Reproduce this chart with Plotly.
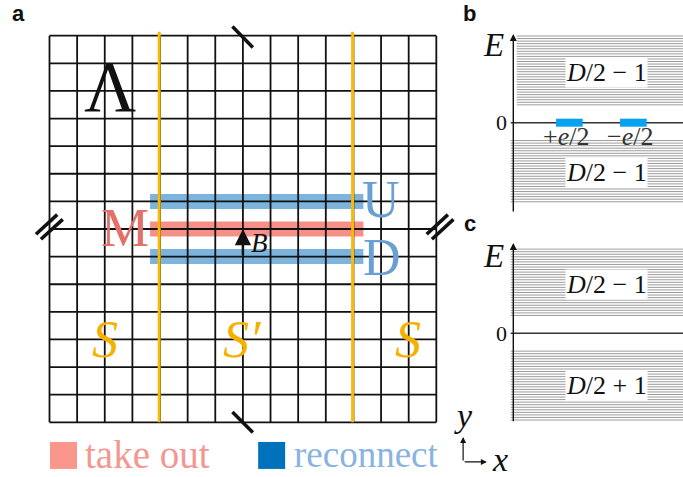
import plotly.graph_objects as go

# ---------------- data ----------------
GRID_N = 14                      # 14 x 14 lattice cells
yellow_cols = [4, 11]            # cut lines between S and S'
take_out_rows = [7]              # row removed (M)
reconnect_rows = [8, 6]          # rows reconnected (U, D)
band_x = [3.64, 11.36]           # horizontal extent of bands
b_col, b_rows = 7, [6, 7]        # B arrow

# energy levels (in units of level spacing)
b_upper = [7, 8, 9, 10, 11, 12, 13, 14, 15, 16, 17, 18, 19, 20, 21, 22, 23, 24, 25, 26, 27, 28, 29, 30, 31, 32, 33, 34]
b_lower = [-7, -8, -9, -10, -11, -12, -13, -14, -15, -16, -17, -18, -19, -20, -21, -22, -23, -24, -25, -26, -27, -28, -29, -30, -31]
c_upper = [7, 8, 9, 10, 11, 12, 13, 14, 15, 16, 17, 18, 19, 20, 21, 22, 23, 24, 25, 26, 27, 28, 29, 30, 31, 32, 33]
c_lower = [-7, -8, -9, -10, -11, -12, -13, -14, -15, -16, -17, -18, -19, -20, -21, -22, -23, -24, -25, -26, -27, -28, -29, -30, -31, -32, -33, -34]
zero_modes_x = [[0.252, 0.409], [0.629, 0.786]]
zero_mode_labels = ["+<i>e</i>/2", "−<i>e</i>/2"]
b_labels = ["<i>D</i>/2 − 1", "<i>D</i>/2 − 1"]
c_labels = ["<i>D</i>/2 − 1", "<i>D</i>/2 + 1"]

SERIF = "Liberation Serif"
BLACK = "#111111"
YELLOW = "#f9b908"
BLUE_BAND = "#7db4dc"
RED_BAND = "#f68f86"

fig = go.Figure()

def seglist(segs):
    xs, ys = [], []
    for (x0, y0, x1, y1) in segs:
        xs += [x0, x1, None]
        ys += [y0, y1, None]
    return xs, ys

# bands
for rows, col in ((reconnect_rows, BLUE_BAND), (take_out_rows, RED_BAND)):
    xs, ys = seglist([(band_x[0], r, band_x[1], r) for r in rows])
    fig.add_trace(go.Scatter(x=xs, y=ys, mode="lines", line=dict(color=col, width=15),
                             hoverinfo="skip", showlegend=False))

# grid
segs = []
for i in range(GRID_N + 1):
    segs.append((i, 0, i, GRID_N))
    segs.append((0, i, GRID_N, i))
xs, ys = seglist(segs)
fig.add_trace(go.Scatter(x=xs, y=ys, mode="lines", line=dict(color=BLACK, width=1.8),
                         hoverinfo="skip", showlegend=False))

# yellow cut lines
xs, ys = seglist([(c - 0.03, 0, c - 0.03, GRID_N + 0.14) for c in yellow_cols])
fig.add_trace(go.Scatter(x=xs, y=ys, mode="lines", line=dict(color=YELLOW, width=3),
                         hoverinfo="skip", showlegend=False))

# break marks
brk = [(6.62, 14.33, 7.36, 13.57), (6.62, 0.37, 7.36, -0.37),
       (-0.49, 6.81, 0.28, 7.52), (-0.31, 6.63, 0.48, 7.35),
       (13.65, 6.81, 14.42, 7.52), (13.84, 6.63, 14.62, 7.35)]
xs, ys = seglist(brk)
fig.add_trace(go.Scatter(x=xs, y=ys, mode="lines", line=dict(color=BLACK, width=3.5),
                         hoverinfo="skip", showlegend=False))

# legend swatches
fig.add_trace(go.Scatter(x=[0.506, 8.04], y=[-1.2, -1.2], mode="markers",
                         marker=dict(symbol="square", size=27, color=["#fa978d", "#0072bb"],
                                     line=dict(width=0)),
                         hoverinfo="skip", showlegend=False))

# ---------------- panels b, c ----------------
def levels(lv, yax, x0=-0.015):
    xs, ys = seglist([(x0, e, 1.0, e) for e in lv])
    fig.add_trace(go.Scatter(x=xs, y=ys, xaxis="x2", yaxis=yax, mode="lines",
                             line=dict(color="#9c9c9c", width=1.0),
                             hoverinfo="skip", showlegend=False))

levels(b_upper, "y2", 0.02)
levels(b_lower, "y2")
levels(c_upper, "y3")
levels(c_lower, "y3")
for yax in ("y2", "y3"):
    fig.add_trace(go.Scatter(x=[-0.015, 1.0], y=[0, 0], xaxis="x2", yaxis=yax, mode="lines",
                             line=dict(color="#333333", width=1.6),
                             hoverinfo="skip", showlegend=False))
xs, ys = seglist([(a, 0, b, 0) for a, b in zero_modes_x])
fig.add_trace(go.Scatter(x=xs, y=ys, xaxis="x2", yaxis="y2", mode="lines",
                         line=dict(color="#07a2f0", width=8),
                         hoverinfo="skip", showlegend=False))

ann = []
def txt(x, y, t, size, color=BLACK, xref="x", yref="y", family=SERIF, xanchor="center", bg=None, **kw):
    d = dict(x=x, y=y, xref=xref, yref=yref, text=t, showarrow=False,
             font=dict(family=family, size=size, color=color), xanchor=xanchor, yanchor="middle")
    if bg:
        d.update(bgcolor=bg, borderpad=0)
    d.update(kw)
    ann.append(d)

def arrow(x, y, ax, ay, xref, yref, width, size=1.0, head=2):
    ann.append(dict(x=x, y=y, ax=ax, ay=ay, xref=xref, yref=yref, axref=xref, ayref=yref,
                    text="", showarrow=True, arrowhead=head, arrowwidth=width, arrowsize=size,
                    arrowcolor=BLACK, standoff=0, startstandoff=0))

# panel a texts
txt(2.19, 12.15, "Λ", 72)
txt(2.73, 7.05, "M", 54, color="#e2716a")
txt(11.98, 8.07, "U", 52, color="#6a9fd3")
txt(12.02, 5.98, "D", 52, color="#6a9fd3")
txt(7.6, 6.5, "<i>B</i>", 27)
txt(2.01, 3.0, "<i>S</i>", 52, color="#f5b000")
txt(6.98, 3.0, "<i>S′</i>", 52, color="#f5b000")
txt(12.96, 3.0, "<i>S</i>", 52, color="#f5b000")
arrow(b_col, b_rows[1], b_col, b_rows[0], "x", "y", 2.5, 1.3)

# legend texts
txt(1.2, -1.15, "take out", 39, color="#f29890", xanchor="left")
txt(8.78, -1.15, "reconnect", 37, color="#88b4df", xanchor="left")

# coordinate symbol
arrow(14.97, -0.53, 14.97, -1.435, "x", "y", 1.2, 1.0)
arrow(15.83, -1.435, 14.97, -1.435, "x", "y", 1.2, 1.0)
txt(14.97, 0.25, "<i>y</i>", 34)
txt(16.3, -1.35, "<i>x</i>", 34)

# panel labels
for lx, ly, t in ((18.5, 13, "a"), (469, 14, "b"), (469.5, 223, "c")):
    txt(lx / 683, 1 - ly / 477, "<b>" + t + "</b>", 22, xref="paper", yref="paper",
        family="Liberation Sans")

# panel b/c texts
for yax, e_top, e_bot, labels, ey in (("y2", 34.8, -35.4, b_labels, (19.8, -19.7)),
                                       ("y3", 35.4, -35.1, c_labels, (19.3, -20.6))):
    arrow(0, e_top, 0, e_bot, "x2", yax, 1.4, 1.0)
    txt(-0.114, 30.3, "<i>E</i>", 33, yref=yax, xref="x2")
    txt(-0.072, 0, "0", 22, yref=yax, xref="x2")
    txt(0.552, ey[0], labels[0], 26, yref=yax, xref="x2", bg="white")
    txt(0.552, ey[1], labels[1], 26, yref=yax, xref="x2", bg="white")
for (a, b), lab in zip(zero_modes_x, zero_mode_labels):
    txt((a + b) / 2 - 0.02, -5.4, lab, 26, color="#333333", yref="y2", xref="x2")

fig.update_layout(
    width=683, height=477, margin=dict(l=0, r=0, t=0, b=0),
    paper_bgcolor="white", plot_bgcolor="white",
    xaxis=dict(range=[-49.5 / 27.63, (683 - 49.5) / 27.63], visible=False, domain=[0, 1]),
    yaxis=dict(range=[-(477 - 422.3) / 27.614, 422.3 / 27.614], visible=False, domain=[0, 1]),
    xaxis2=dict(range=[-513.3 / 169.7, (683 - 513.3) / 169.7], visible=False, overlaying="x",
                domain=[0, 1]),
    yaxis2=dict(range=[(122.7 - 477) / 2.55, 122.7 / 2.55], visible=False, overlaying="y",
                domain=[0, 1]),
    yaxis3=dict(range=[(333.3 - 477) / 2.55, 333.3 / 2.55], visible=False, overlaying="y",
                domain=[0, 1]),
    annotations=ann,
    showlegend=False,
)
fig.write_html("out.html")
